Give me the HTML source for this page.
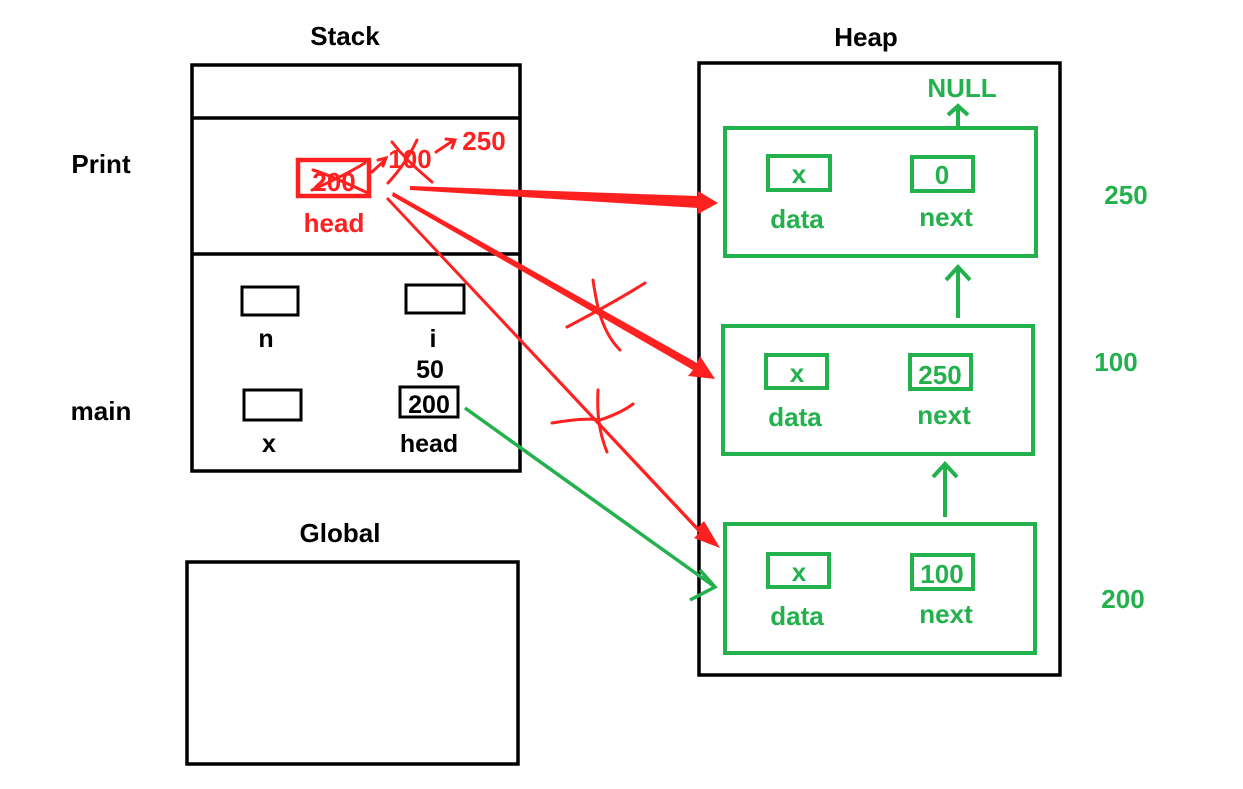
<!DOCTYPE html>
<html><head><meta charset="utf-8"><style>
html,body{margin:0;padding:0;background:#fff;width:1243px;height:789px;overflow:hidden}
svg text{font-family:"Liberation Sans",sans-serif;font-weight:bold}
</style></head><body>
<svg width="1243" height="789" viewBox="0 0 1243 789" xmlns="http://www.w3.org/2000/svg">
<g font-size="26" fill="#000">
<text x="345" y="45" text-anchor="middle">Stack</text>
<text x="866" y="46" text-anchor="middle">Heap</text>
<text x="101" y="173" text-anchor="middle">Print</text>
<text x="101" y="420" text-anchor="middle">main</text>
<text x="340" y="542" text-anchor="middle">Global</text>
</g>
<g fill="none" stroke="#000" stroke-width="3.5">
<rect x="192" y="65" width="328" height="406"/>
<line x1="192" y1="118" x2="520" y2="118"/>
<line x1="192" y1="254" x2="520" y2="254"/>
<rect x="187" y="562" width="331" height="202"/>
<rect x="699" y="63" width="361" height="612"/>
<rect x="242" y="287" width="56" height="28" stroke-width="3"/>
<rect x="406" y="285" width="58" height="28" stroke-width="3"/>
<rect x="244" y="390" width="57" height="30" stroke-width="3"/>
<rect x="400" y="387" width="58" height="30" stroke-width="3"/>
</g>
<g font-size="25" fill="#000" text-anchor="middle">
<text x="266" y="347">n</text>
<text x="433" y="347">i</text>
<text x="430" y="378">50</text>
<text x="269" y="452">x</text>
<text x="429" y="452">head</text>
<text x="429" y="413">200</text>
</g>
<g fill="none" stroke="#22b14c" stroke-width="4">
<rect x="725" y="128" width="311" height="128"/>
<rect x="723" y="326" width="310" height="128"/>
<rect x="725" y="524" width="310" height="129"/>
<rect x="768" y="156" width="62" height="34"/>
<rect x="912" y="157" width="61" height="34"/>
<rect x="766" y="355" width="61" height="33"/>
<rect x="910" y="355" width="61" height="34"/>
<rect x="768" y="554" width="61" height="33"/>
<rect x="912" y="555" width="61" height="34"/>
<path d="M958 318V266M946 280L958 267L970 280"/>
<path d="M945 517V463M933 477L945 464L957 477"/>
<path d="M958 127V106M948 115L958 106L968 115"/>
<path d="M465 408L715 587M700 570L715 587L690 600" stroke-width="3.5"/>
</g>
<g font-size="26" fill="#22b14c" text-anchor="middle">
<text x="962" y="97">NULL</text>
<text x="799" y="183">x</text><text x="942" y="184">0</text>
<text x="797" y="228">data</text><text x="946" y="226">next</text>
<text x="797" y="382">x</text><text x="940" y="384">250</text>
<text x="795" y="426">data</text><text x="944" y="424">next</text>
<text x="799" y="581">x</text><text x="942" y="583">100</text>
<text x="797" y="625">data</text><text x="946" y="623">next</text>
<text x="1126" y="204">250</text>
<text x="1116" y="371">100</text>
<text x="1123" y="608">200</text>
</g>
<g fill="#ff2020" stroke="none">
<polygon points="410,186 698,196 698,191 718,203 698,214 698,208 410,190"/>
<polygon points="393,192 697,363 700,356 715,379 688,376 693,370 392,196"/>
<polygon points="388,197 698,527 704,521 720,548 694,538 699,533 386,199"/>
</g>
<g fill="none" stroke="#ff2020" stroke-width="3" stroke-linecap="round">
<rect x="298" y="160" width="71" height="36" stroke-width="4.5"/>
<path d="M567 327C580 320 610 305 645 283M593 280C596 300 600 330 620 350"/>
<path d="M552 423C570 420 590 418 600 420C615 415 625 410 633 404M598 390C597 410 598 430 607 452"/>
<path d="M372 172L385 160M378 160L386 158L383 166"/>
<path d="M392 142C402 155 412 165 432 182M388 183C400 170 410 155 417 140"/>
<path d="M436 152L454 140M446 139L455 140L452 148"/>
<path d="M313 170C330 175 350 185 368 193M312 190C330 182 350 172 365 163"/>
</g>
<g font-size="26" fill="#ff2020" text-anchor="middle">
<text x="334" y="191">200</text>
<text x="410" y="168">100</text>
<text x="484" y="150">250</text>
<text x="334" y="232">head</text>
</g>
</svg>
</body></html>
